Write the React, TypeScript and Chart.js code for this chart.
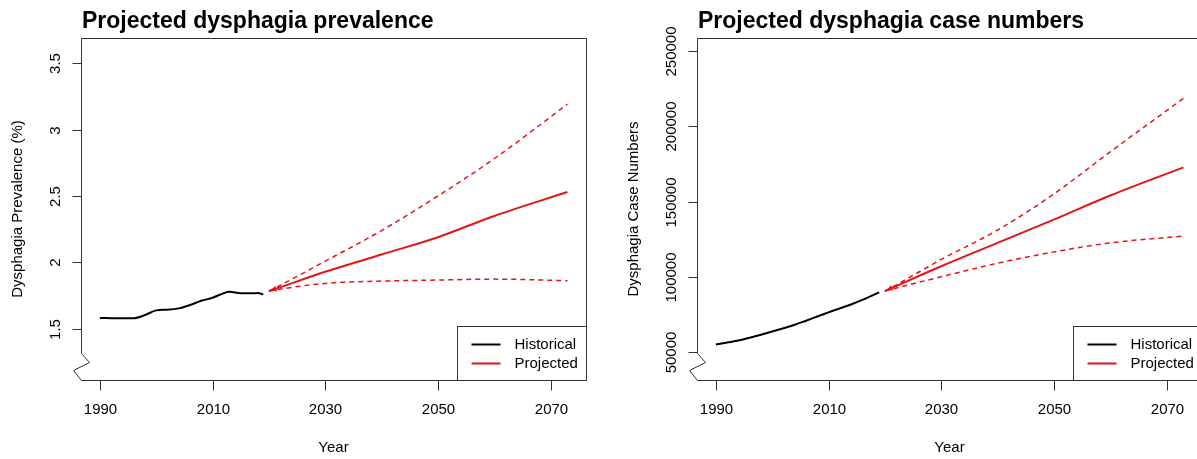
import React, { useEffect, useRef } from "react";
import { Chart, registerables } from "chart.js";

Chart.register(...registerables);

const FONT = '"Liberation Sans", Arial, Helvetica, sans-serif';
const RED = "#e3151b";

// shared
const xTicks = [1990, 2010, 2030, 2050, 2070];
const xAxisTitle = "Year";
const legendLabels = ["Historical", "Projected"];
const X_MIN = 1986.65;
const X_MAX = 2076.3;

// left panel: prevalence
const prevTitle = "Projected dysphagia prevalence";
const prevYTitle = "Dysphagia Prevalence (%)";
const prevYTicks = [1.5, 2, 2.5, 3, 3.5];
const prevYMin = 1.1165;
const prevYMax = 3.688;
const histYears = [1990, 1993, 1996, 1998, 2000, 2002, 2004, 2006, 2008, 2010, 2012, 2013, 2015, 2017, 2018, 2019];
const histPrev = [1.583, 1.580, 1.581, 1.605, 1.640, 1.645, 1.655, 1.680, 1.712, 1.735, 1.770, 1.780, 1.768, 1.768, 1.770, 1.760];
const projYears = [2020, 2021, 2030, 2040, 2050, 2060, 2073];
const projPrevMean = [1.785, 1.799, 1.93, 2.06, 2.19, 2.35, 2.53];
const projPrevUpper = [1.785, 1.806, 2.01, 2.24, 2.50, 2.78, 3.19];
const projPrevLower = [1.785, 1.793, 1.843, 1.86, 1.868, 1.875, 1.863];

// right panel: case numbers
const caseTitle = "Projected dysphagia case numbers";
const caseYTitle = "Dysphagia Case Numbers";
const caseYTicks = [50000, 100000, 150000, 200000, 250000];
const caseYMin = 31394;
const caseYMax = 258650;
const histCaseYears = [1990, 1992, 1994, 1996, 1998, 2000, 2002, 2004, 2006, 2008, 2010, 2012, 2014, 2016, 2018, 2019];
const histCases = [55000, 56300, 57600, 59500, 61500, 63600, 65800, 68100, 70800, 73600, 76300, 79000, 81600, 84600, 88000, 89600];
const projCaseMean = [90500, 92150, 107000, 122500, 138000, 154000, 172700];
const projCaseUpper = [90500, 92450, 111500, 131000, 155000, 183000, 218500];
const projCaseLower = [90500, 91500, 100000, 109000, 116500, 122500, 127000];

type Panel = {
  title: string;
  yTitle: string;
  yTicks: number[];
  yMin: number;
  yMax: number;
  histX: number[];
  histY: number[];
  mean: number[];
  upper: number[];
  lower: number[];
  arrowRot: number;
};

const pts = (xs: number[], ys: number[]) => xs.map((x, i) => ({ x, y: ys[i] }));

function decorPlugin(p: Panel) {
  return {
    id: "decor",
    afterDraw(chart: any) {
      const { ctx, chartArea: ca, scales } = chart;
      const xs = scales.x;
      const ys = scales.y;
      const L = Math.round(ca.left) + 0.5;
      const R = Math.round(ca.right) + 0.5;
      const T = Math.round(ca.top) + 0.5;
      const B = Math.round(ca.bottom) + 0.5;
      ctx.save();
      ctx.strokeStyle = "#333";
      ctx.lineWidth = 1;
      // frame with axis break zigzag
      ctx.fillStyle = "#fff";
      ctx.fillRect(L - 10, B - 28, 10, 28);
      ctx.beginPath();
      ctx.moveTo(L, B);
      ctx.lineTo(L - 8, B - 10);
      ctx.lineTo(L + 8, B - 18);
      ctx.lineTo(L, B - 27);
      ctx.lineTo(L, T);
      ctx.lineTo(R, T);
      ctx.lineTo(R, B);
      ctx.lineTo(L, B);
      ctx.stroke();

      ctx.fillStyle = "#000";
      ctx.font = `15px ${FONT}`;
      // x ticks
      ctx.textAlign = "center";
      ctx.textBaseline = "middle";
      xTicks.forEach((v) => {
        const px = Math.round(xs.getPixelForValue(v)) + 0.5;
        ctx.beginPath();
        ctx.moveTo(px, B);
        ctx.lineTo(px, B + 10);
        ctx.stroke();
        ctx.fillText(String(v), px, 410);
      });
      // y ticks
      p.yTicks.forEach((v) => {
        const py = Math.round(ys.getPixelForValue(v)) + 0.5;
        ctx.beginPath();
        ctx.moveTo(L - 9, py);
        ctx.lineTo(L, py);
        ctx.stroke();
        ctx.save();
        ctx.translate(L - 26, py);
        ctx.rotate(-Math.PI / 2);
        ctx.fillText(String(v), 0, 0);
        ctx.restore();
      });
      // axis titles
      ctx.fillText(xAxisTitle, (ca.left + ca.right) / 2, 448);
      ctx.save();
      ctx.translate(L - 64, (ca.top + ca.bottom) / 2);
      ctx.rotate(-Math.PI / 2);
      ctx.fillText(p.yTitle, 0, 0);
      ctx.restore();
      // main title
      ctx.font = `bold 23px ${FONT}`;
      ctx.textAlign = "left";
      ctx.textBaseline = "alphabetic";
      ctx.fillText(p.title, L + 0.5, 28);

      // legend
      const lx = R - 129;
      const ly = B - 54;
      ctx.fillStyle = "#fff";
      ctx.fillRect(lx, ly, R - lx, B - ly);
      ctx.strokeRect(lx, ly, R - lx, B - ly);
      const colors = ["#000", RED];
      ctx.font = `15px ${FONT}`;
      ctx.textBaseline = "middle";
      legendLabels.forEach((lab, i) => {
        const yy = ly + 18 + i * 19;
        ctx.strokeStyle = colors[i];
        ctx.lineWidth = 2;
        ctx.beginPath();
        ctx.moveTo(lx + 14, yy);
        ctx.lineTo(lx + 43, yy);
        ctx.stroke();
        ctx.fillStyle = "#000";
        ctx.fillText(lab, lx + 57, yy);
      });
      ctx.restore();
    },
  };
}

function makeChart(canvas: HTMLCanvasElement, p: Panel) {
  return new Chart(canvas, {
    type: "line",
    data: {
      datasets: [
        {
          data: pts(projYears, p.upper),
          borderColor: RED,
          borderWidth: 1.5,
          borderDash: [5, 4],
          pointRadius: 0,
          cubicInterpolationMode: "monotone",
        },
        {
          data: pts(projYears, p.lower),
          borderColor: RED,
          borderWidth: 1.5,
          borderDash: [5, 4],
          pointRadius: 0,
          cubicInterpolationMode: "monotone",
        },
        {
          data: pts(projYears, p.mean),
          borderColor: RED,
          borderWidth: 2,
          pointRadius: (c: any) => (c.dataIndex === 1 ? 3.5 : 0),
          pointStyle: "triangle",
          rotation: p.arrowRot,
          pointBackgroundColor: RED,
          pointBorderColor: RED,
          pointBorderWidth: 0,
          cubicInterpolationMode: "monotone",
        },
        {
          data: pts(p.histX, p.histY),
          borderColor: "#000",
          borderWidth: 2,
          pointRadius: 0,
          cubicInterpolationMode: "monotone",
        },
      ],
    } as any,
    options: {
      animation: false,
      responsive: false,
      events: [],
      layout: { padding: { left: 81, top: 38, right: 14, bottom: 79 } },
      plugins: { legend: { display: false }, tooltip: { enabled: false } },
      scales: {
        x: { type: "linear", min: X_MIN, max: X_MAX, display: false },
        y: { type: "linear", min: p.yMin, max: p.yMax, display: false },
      },
    } as any,
    plugins: [decorPlugin(p)],
  });
}

export default function App() {
  const leftRef = useRef<HTMLCanvasElement>(null);
  const rightRef = useRef<HTMLCanvasElement>(null);

  useEffect(() => {
    document.body.style.overflow = "hidden";
    const c1 = makeChart(leftRef.current!, {
      title: prevTitle,
      yTitle: prevYTitle,
      yTicks: prevYTicks,
      yMin: prevYMin,
      yMax: prevYMax,
      histX: histYears,
      histY: histPrev,
      mean: projPrevMean,
      upper: projPrevUpper,
      lower: projPrevLower,
      arrowRot: 251,
    });
    const c2 = makeChart(rightRef.current!, {
      title: caseTitle,
      yTitle: caseYTitle,
      yTicks: caseYTicks,
      yMin: caseYMin,
      yMax: caseYMax,
      histX: histCaseYears,
      histY: histCases,
      mean: projCaseMean,
      upper: projCaseUpper,
      lower: projCaseLower,
      arrowRot: 246,
    });
    return () => {
      c1.destroy();
      c2.destroy();
    };
  }, []);

  return (
    <div
      style={{
        position: "absolute",
        left: 0,
        top: 0,
        width: 1197,
        height: 459,
        overflow: "hidden",
        background: "#fff",
      }}
    >
      <canvas
        ref={leftRef}
        width={600}
        height={459}
        style={{ position: "absolute", left: 0, top: 0, width: 600, height: 459 }}
      />
      <canvas
        ref={rightRef}
        width={600}
        height={459}
        style={{ position: "absolute", left: 616, top: 0, width: 600, height: 459 }}
      />
    </div>
  );
}
